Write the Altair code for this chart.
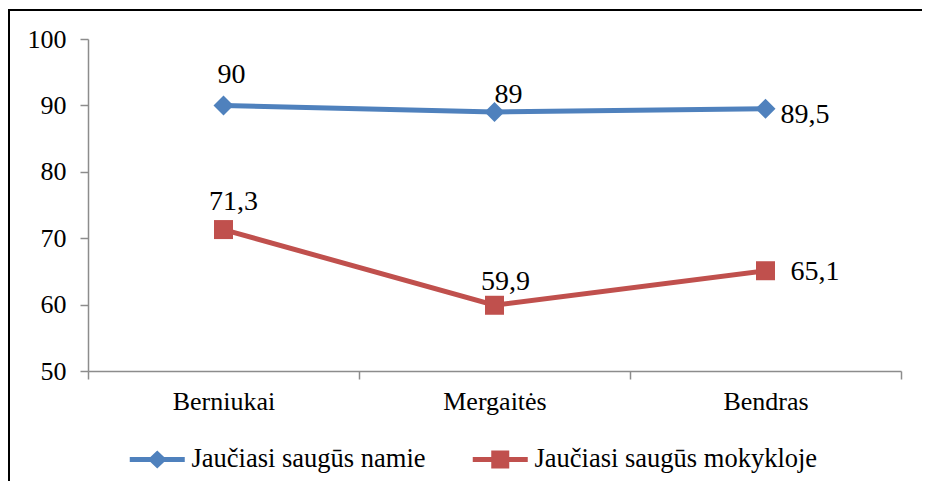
import altair as alt
import pandas as pd

categories = ["Berniukai", "Mergaitės", "Bendras"]
series_names = ["Jaučiasi saugūs namie", "Jaučiasi saugūs mokykloje"]
namie = [90, 89, 89.5]
mokykloje = [71.3, 59.9, 65.1]
y_ticks = [50, 60, 70, 80, 90, 100]

BLUE = "#4F81BD"
RED = "#C0504D"
FONT = "Liberation Serif"
AXIS_GRAY = "#8c8c8c"

W, H = 813, 332
PAD = {"left": 80, "top": 31, "right": 21, "bottom": 110}

rows = []
for name, vals in zip(series_names, [namie, mokykloje]):
    for c, v in zip(categories, vals):
        rows.append({"cat": c, "series": name, "value": v,
                     "label": f"{v:g}".replace(".", ",")})
df = pd.DataFrame(rows)

x = alt.X("cat:N", sort=categories,
          scale=alt.Scale(type="band", paddingInner=0, paddingOuter=0),
          axis=alt.Axis(title=None, labelAngle=0, tickBand="extent",
                        labelFont=FONT, labelFontSize=26, labelColor="black",
                        labelPadding=9, tickSize=8, tickColor=AXIS_GRAY,
                        tickWidth=1.5, domainColor=AXIS_GRAY, domainWidth=1.5,
                        grid=False))
y = alt.Y("value:Q",
          scale=alt.Scale(domain=[50, 100], nice=False, zero=False),
          axis=alt.Axis(title=None, values=y_ticks, grid=False,
                        labelFont=FONT, labelFontSize=26, labelColor="black",
                        labelPadding=14, tickSize=8, tickColor=AXIS_GRAY,
                        tickWidth=1.5, domainColor=AXIS_GRAY, domainWidth=1.5))

PATH_D = "M-2.75,-0.25L2.75,-0.25L2.75,0.25L-2.75,0.25ZM0,-0.9L0.95,0L0,0.9L-0.95,0Z"
PATH_S = "M-2.75,-0.25L2.75,-0.25L2.75,0.25L-2.75,0.25ZM-0.9,-0.9L0.9,-0.9L0.9,0.9L-0.9,0.9Z"


def series_layers(name, colour, shape, size):
    d = alt.Chart(df).transform_filter(alt.datum.series == name).encode(x=x, y=y)
    line = d.mark_line(strokeWidth=5, color=colour)
    pts = d.mark_point(shape=shape, filled=True, size=size, opacity=1,
                       strokeWidth=0, color=colour)
    return [line, pts]


# legend-only layer (no rows drawn); symbols are line + marker paths
legend_layer = alt.Chart(df).transform_filter(alt.datum.value < 0).mark_point(
    filled=True, size=400, opacity=1, strokeWidth=0).encode(
    x=x, y=y,
    color=alt.Color("series:N",
                    scale=alt.Scale(domain=series_names, range=[BLUE, RED]),
                    title=None),
    shape=alt.Shape("series:N",
                    scale=alt.Scale(domain=series_names, range=[PATH_D, PATH_S]),
                    title=None),
)


def label(series, cat, align, dx, dy):
    return alt.Chart(df).transform_filter(
        (alt.datum.series == series) & (alt.datum.cat == cat)
    ).mark_text(align=align, baseline="alphabetic", dx=dx, dy=dy, font=FONT,
                fontSize=28, color="black").encode(x=x, y=y, text="label:N")


labels = [
    label(series_names[0], categories[0], "center", 8, -22),
    label(series_names[0], categories[1], "center", 14, -9),
    label(series_names[0], categories[2], "left", 15, 14),
    label(series_names[1], categories[0], "center", 10, -20),
    label(series_names[1], categories[1], "center", 11, -15),
    label(series_names[1], categories[2], "left", 25, 9),
]

# frame: left and top edges, kept inside the drawing surface
frame_df = pd.DataFrame({"k": [0]})
frame_left = alt.Chart(frame_df).mark_rule(color="black", strokeWidth=2).encode(
    x=alt.value(-79), y=alt.value(-29), y2=alt.value(H + PAD["bottom"]))
frame_top = alt.Chart(frame_df).mark_rule(color="black", strokeWidth=2).encode(
    x=alt.value(-80), x2=alt.value(W + PAD["right"]), y=alt.value(-29))

chart = alt.layer(frame_left, frame_top,
                  *series_layers(series_names[0], BLUE, "diamond", 400),
                  *series_layers(series_names[1], RED, "square", 361),
                  legend_layer, *labels).properties(
    width=W, height=H,
    padding=PAD,
    autosize=alt.AutoSizeParams(type="none"),
    background="white",
).configure_view(strokeWidth=0).configure_legend(
    orient="none", legendX=56, legendY=407, direction="horizontal",
    labelFont=FONT, labelFontSize=26.5, labelColor="black", symbolSize=400,
    labelOffset=21, columnPadding=46, symbolStrokeWidth=0, symbolOpacity=1,
    labelLimit=500,
)

chart.save("out.html", embed_options={"renderer": "svg", "actions": False})
